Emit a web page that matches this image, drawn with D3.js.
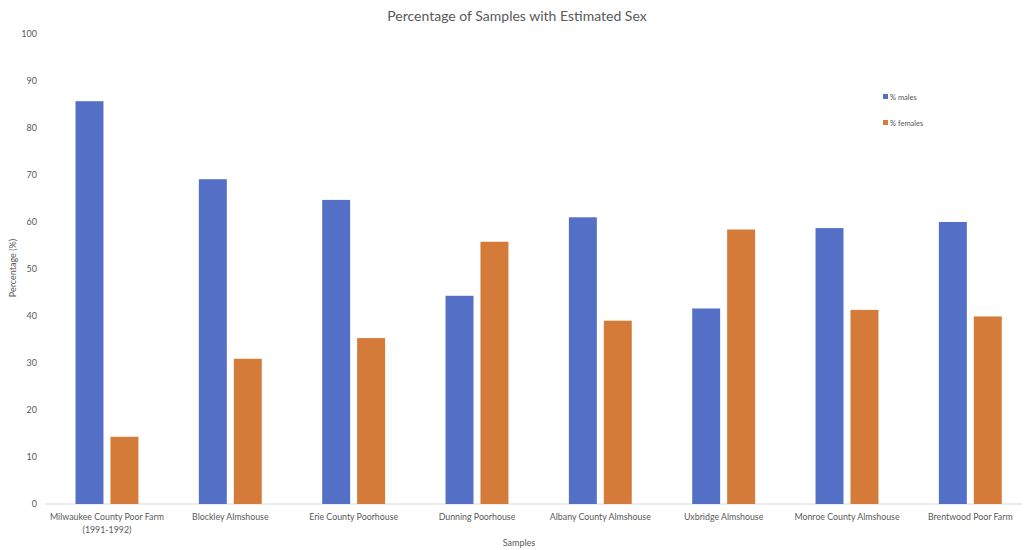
<!DOCTYPE html>
<html><head><meta charset="utf-8">
<script src="https://cdn.jsdelivr.net/npm/d3@7"></script>
<style>
body{margin:0;background:#fff;}
text{font-family:Lato,"Open Sans",sans-serif;fill:#595959;}
</style></head>
<body><svg id="c" width="1025" height="550"></svg>
<script>
const categories = ["Milwaukee County Poor Farm|(1991-1992)","Blockley Almshouse","Erie County Poorhouse","Dunning Poorhouse","Albany County Almshouse","Uxbridge Almshouse","Monroe County Almshouse","Brentwood Poor Farm"];
const males = [85.7,69.1,64.7,44.3,61.0,41.6,58.7,60.0];
const females = [14.3,30.9,35.3,55.8,39.0,58.4,41.3,39.9];
const seriesNames = ["% males","% females"];
const colors = ["#5470C6","#D57B39"];
const yTicks = [0,10,20,30,40,50,60,70,80,90,100];

(function(){
const svg = d3.select("#c");
const mLeft = 45.3, mRight = 1032, mTop = 34, mBottom = 504;
const x0 = d3.scaleBand().domain(categories).range([mLeft,mRight]).paddingInner(0.49).paddingOuter(0.245);
const x1 = d3.scaleBand().domain([0,1]).range([0,x0.bandwidth()]).paddingInner(0.2);
const y = d3.scaleLinear().domain([0,100]).range([mBottom,mTop]);

svg.append("line").attr("x1",mLeft).attr("x2",1022).attr("y1",mBottom).attr("y2",mBottom).attr("stroke","#d9d9d9").attr("stroke-width",1);

svg.append("g").selectAll("text").data(yTicks).join("text")
  .attr("x",37).attr("y",d=>y(d)).attr("dy","0.35em").attr("text-anchor","end")
  .attr("font-size",9).text(d=>d);

const data = [males,females];
categories.forEach((c,i)=>{
  [0,1].forEach(s=>{
    svg.append("rect").attr("x",x0(c)+x1(s)).attr("width",x1.bandwidth())
      .attr("y",y(data[s][i])).attr("height",y(0)-y(data[s][i])).attr("fill",colors[s]);
  });
});

const xl = svg.append("g");
categories.forEach(c=>{
  const lines = c.split("|");
  const cx = x0(c)+x0.bandwidth()/2;
  const t = xl.append("text").attr("x",cx).attr("y",520).attr("text-anchor","middle").attr("font-size",8.8);
  lines.forEach((l,k)=>t.append("tspan").attr("x",cx).attr("dy",k?12.5:0).text(l));
});

svg.append("text").attr("x",517).attr("y",21).attr("text-anchor","middle").attr("font-size",14).text("Percentage of Samples with Estimated Sex");
svg.append("text").attr("x",519).attr("y",546).attr("text-anchor","middle").attr("font-size",9).text("Samples");
svg.append("text").attr("transform","translate(16,268) rotate(-90)").attr("text-anchor","middle").attr("font-size",9).text("Percentage (%)");

const lg = svg.append("g");
seriesNames.forEach((n,i)=>{
  const yy = 97 + i*26;
  lg.append("rect").attr("x",883).attr("y",yy-3).attr("width",5).attr("height",5).attr("fill",colors[i]);
  lg.append("text").attr("x",890).attr("y",yy).attr("dy","0.35em").attr("font-size",7.5).text(n);
});
})();
</script></body></html>
